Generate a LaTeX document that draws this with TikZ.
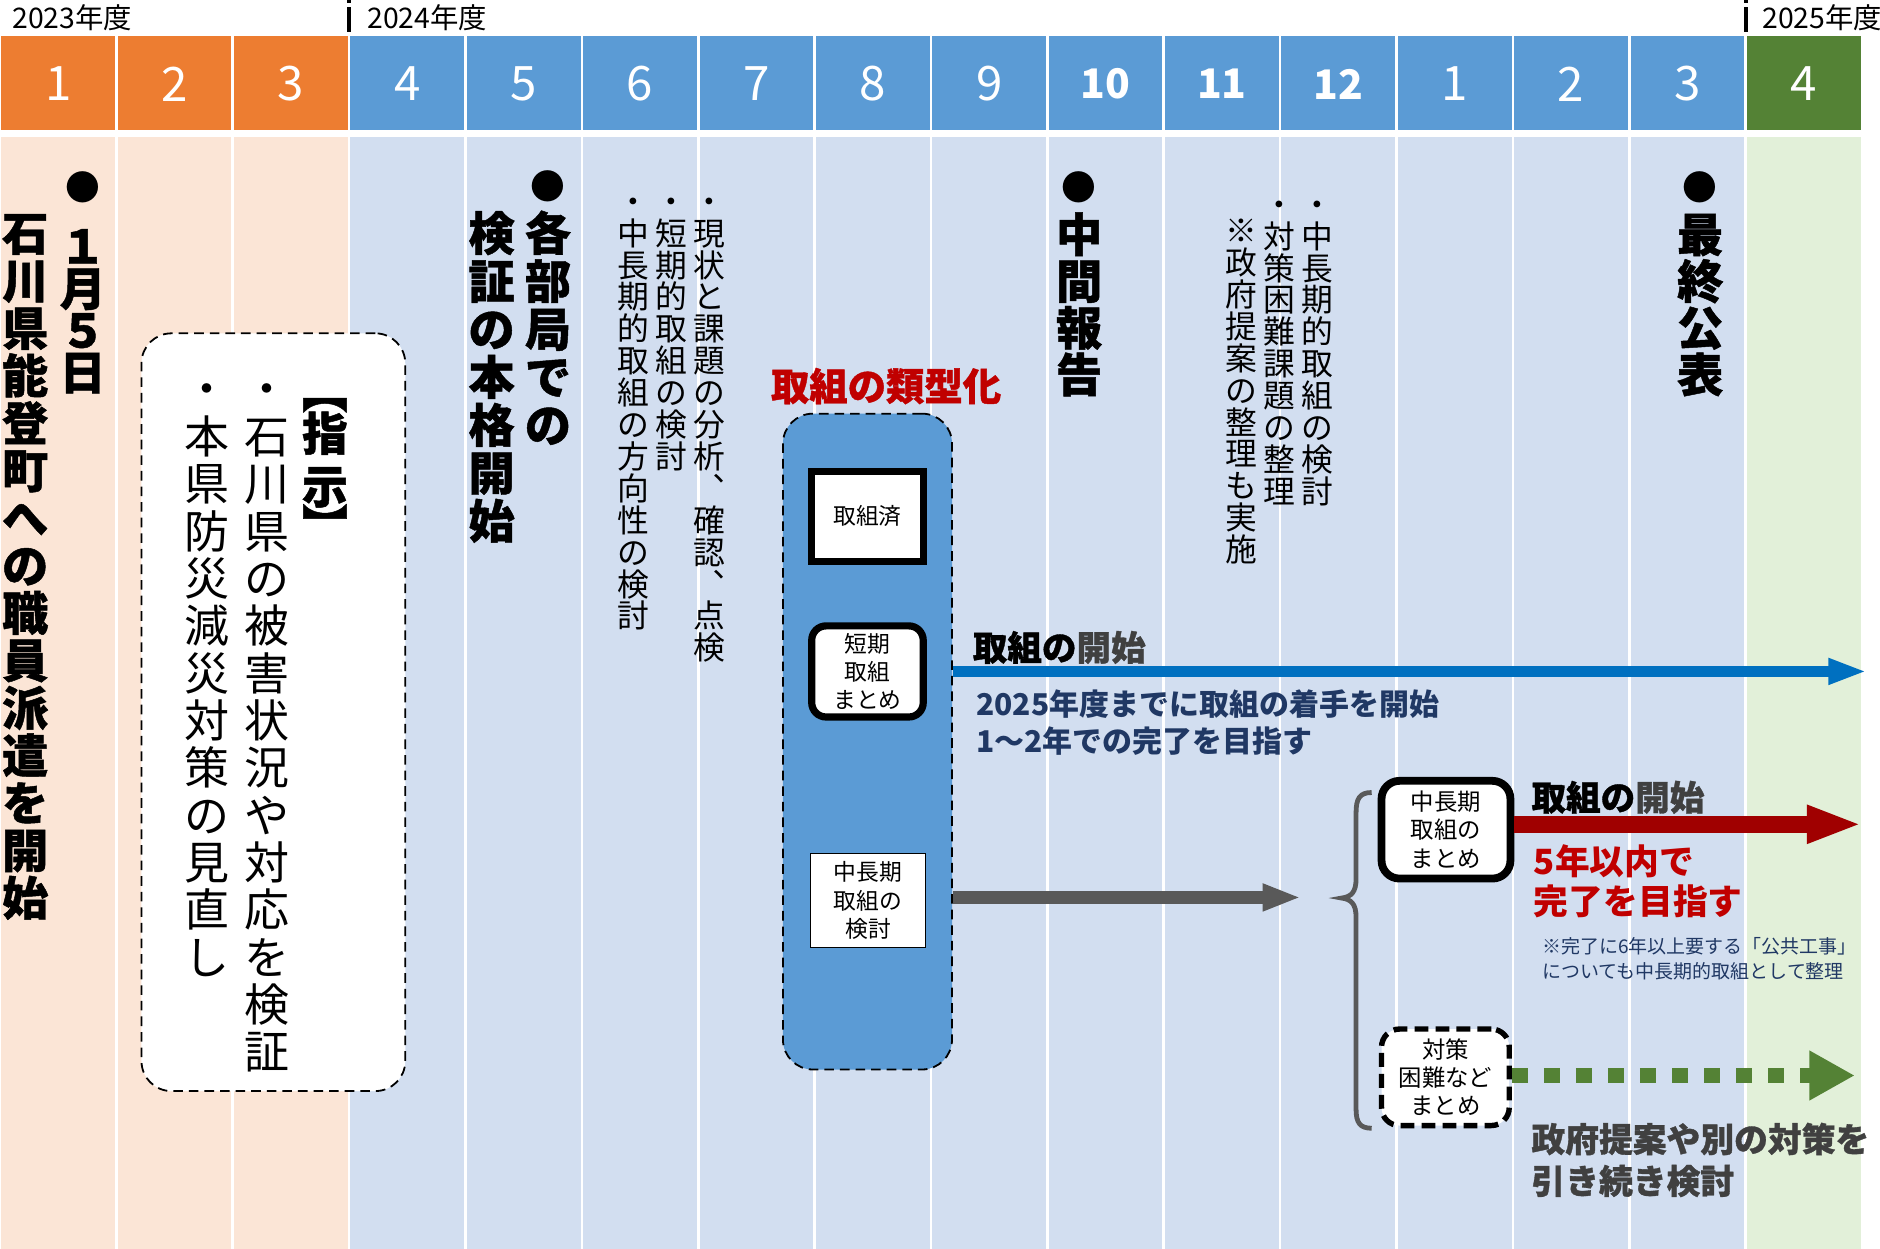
\documentclass[tikz,border=0pt]{standalone}
\usepackage{fontspec}
\setmainfont{Noto Sans CJK JP}
\usetikzlibrary{arrows.meta}
\definecolor{orgH}{HTML}{ED7D31}
\definecolor{orgB}{HTML}{FBE5D6}
\definecolor{bluH}{HTML}{5B9BD5}
\definecolor{bluB}{HTML}{D2DEF0}
\definecolor{grnH}{HTML}{548235}
\definecolor{grnB}{HTML}{E2F0D9}
\definecolor{arrBlue}{HTML}{0070C0}
\definecolor{arrRed}{HTML}{A00000}
\definecolor{dRed}{HTML}{C00000}
\definecolor{gry}{HTML}{595959}
\definecolor{dgry}{HTML}{404040}
\definecolor{navy}{HTML}{203864}
\newcommand\fsz[2]{\fontsize{#1pt}{#2pt}\selectfont}
\newcommand\heavy{\bfseries\addfontfeatures{FakeBold=1}}
\newcommand\vstrut{\vrule height .88em depth .12em width 0pt\relax}
\ExplSyntaxOn
\NewDocumentCommand{\vt}{ O{1em} m }
 {
  \vbox:n
   {
    \offinterlineskip
    \tl_map_inline:nn {#2}
     {
      \hbox_to_wd:nn {1em}
       { \hss \vbox_to_ht:nn {#1} { \vss \hbox:n { \vstrut ##1 } \vss } \hss }
     }
   }
 }
\ExplSyntaxOff
\begin{document}
\begin{tikzpicture}[x=0.6pt,y=-0.6pt,
  hnum/.style={text=white,inner sep=0pt,font=\fsz{23.76}{24}},
  hnumb/.style={text=white,inner sep=0pt,font=\bfseries\fsz{20.4}{21}},
  yr/.style={font=\fsz{14.2}{15},anchor=west,inner sep=0pt},
  vtx/.style={inner sep=0pt,anchor=north},
  vb/.style={vtx,font=\fsz{23.1}{24}\heavy},
  dot/.style={inner sep=0pt,font=\fsz{17.4}{18}},
  vr/.style={vtx,font=\fsz{15.9}{16}},
  vbx/.style={vtx,font=\fsz{22.5}{24}},
  brk/.style={inner sep=0pt,rotate=-90,font=\fsz{22.8}{24}\heavy},
  smallbox/.style={fill=white,align=center,inner sep=0pt,font=\fsz{11.4}{14.1}},
  lbl/.style={anchor=west,inner sep=0pt},
  tick/.style={line width=1.92pt,black},
]
\useasboundingbox (0,0) rectangle (1568,1041.7);
\fill[white] (0,0) rectangle (1568,1041.7);
% columns
\foreach \i in {0,...,15}{
  \ifnum\i<3 \def\hc{orgH}\def\bc{orgB}\else
    \ifnum\i<15 \def\hc{bluH}\def\bc{bluB}\else \def\hc{grnH}\def\bc{grnB}\fi\fi
  \fill[\hc] ({\i*97.06+1.1},30) rectangle ({(\i+1)*97.06-1.1},108.4);
  \fill[\bc] ({\i*97.06+1.1},114.5) rectangle ({(\i+1)*97.06-1.1},1041.7);
}
% year labels and ticks
\node[yr] (y23) at (10,15) {2023年度};
\node[yr] (y24) at (306,15) {2024年度};
\node[yr] (y25) at (1469.6,15) {2025年度};
\draw[tick] (291.2,0) -- (291.2,2.2);
\draw[tick] (291.2,6.1) -- (291.2,27);
\draw[tick] (1455.9,0) -- (1455.9,2.2);
\draw[tick] (1455.9,6.1) -- (1455.9,27);
% month numbers
\foreach \m/\s [count=\i] in {1/hnum,2/hnum,3/hnum,4/hnum,5/hnum,6/hnum,7/hnum,8/hnum,9/hnum,10/hnumb,11/hnumb,12/hnumb,1/hnum,2/hnum,3/hnum,4/hnum}
  \node[\s] (m\i) at ({(\i-0.5)*97.06},70) {\m};

% column 1
\node[dot] (c1dot) at (69,156) {●};
\node[vb] (c1date) at (69,187.5) {\vt[21pt]{１月５日}};
\node[vb] (c1txt) at (21,174.2) {\vt[23.76pt]{石川県能登町への職員派遣を開始}};

% instruction box
\node[draw,dashed,dash pattern=on 4.8pt off 3pt,line width=0.9pt,rounded corners=15pt,fill=white,
      minimum width=132pt,minimum height=379.2pt,inner sep=0pt] (ibox) at (228,594) {};
\node[brk] (brL) at (271,326) {【};
\node[vtx,font=\fsz{22.8}{24}\heavy] (shiji) at (271,339) {\vt[26.4pt]{指示}};
\node[brk] (brR) at (271,438.5) {】};
\node[vbx] (i1) at (222.5,304.25) {\vt[23.7pt]{・石川県の被害状況や対応を検証}};
\node[vbx] (i2) at (172.5,304.25) {\vt[23.7pt]{・本県防災減災対策の見直し}};

% column 5
\node[dot] (c5dot) at (457,155) {●};
\node[vb] (c5a) at (457,174) {\vt[24pt]{各部局での}};
\node[vb] (c5b) at (410,174) {\vt[24pt]{検証の本格開始}};
% columns 6-7
\node[vr] (c6a) at (592,154.2) {\vt[15.96pt]{・現状と課題の分析︑確認︑点検}};
\node[vr] (c6b) at (560,154.2) {\vt[15.96pt]{・短期的取組の検討}};
\node[vr] (c6c) at (528,154.2) {\vt[15.96pt]{・中長期的取組の方向性の検討}};
% column 10
\node[dot] (c10dot) at (900,156) {●};
\node[vb] (c10) at (900,175.5) {\vt[23.4pt]{中間報告}};
% columns 11-12
\node[vr] (c11a) at (1099,156.7) {\vt[15.96pt]{・中長期的取組の検討}};
\node[vr] (c11b) at (1067,156.7) {\vt[15.96pt]{・対策困難課題の整理}};
\node[vr] (c11c) at (1035,178.7) {\vt[15.96pt]{※政府提案の整理も実施}};
% column 15
\node[dot] (c15dot) at (1418,156) {●};
\node[vb] (c15) at (1418,175.5) {\vt[23.4pt]{最終公表}};

% typing block
\node[font=\fsz{19.2}{20}\heavy,text=dRed,inner sep=0pt] (ruikei) at (739,322) {取組の類型化};
\node[draw,dashed,dash pattern=on 4.8pt off 3pt,line width=0.9pt,rounded corners=15pt,fill=bluH,
      minimum width=84.6pt,minimum height=328.2pt,inner sep=0pt] (tbox) at (723.5,618.5) {};
\node[smallbox,draw,line width=3.6pt,minimum width=55.8pt,minimum height=45pt] (done) at (723.5,430.5) {取組済};
\node[smallbox,draw,line width=3.6pt,rounded corners=7.2pt,minimum width=55.8pt,minimum height=45.6pt] (short) at (723.5,560) {短期\\取組\\まとめ};
\node[smallbox,draw,line width=0.6pt,minimum width=57.6pt,minimum height=46.8pt] (midk) at (724,751) {中長期\\取組の\\検討};

% blue arrow
\coordinate (bE) at (1557,560);
\draw[arrBlue,line width=5.4pt,-{Triangle[length=19.2pt,width=12pt]}] (tbox.east |- bE) -- (bE);
\node[lbl,font=\fsz{17.3}{18}\heavy] (bl1) at (811,540) {取組の\textcolor{dgry}{開始}};
\node[lbl,font=\bfseries\fsz{15}{16},text=navy] (bl2) at (814,587) {2025年度までに取組の着手を開始};
\node[lbl,font=\bfseries\fsz{15}{16},text=navy] (bl3) at (814,618) {1〜2年での完了を目指す};

% gray arrow
\coordinate (gE) at (1085,748.5);
\draw[gry,line width=6.6pt,-{Triangle[length=19.2pt,width=12.6pt]}] (tbox.east |- gE) -- (gE);

% brace
\draw[gry,line width=2.4pt] (1144,661) .. controls (1134,661) and (1131,666) .. (1131,678)
  -- (1131,733) .. controls (1131,744) and (1127,748) .. (1119,749)
  .. controls (1127,750) and (1131,754) .. (1131,765)
  -- (1131,925) .. controls (1131,936) and (1134,941) .. (1144,941);

% mid/long term
\node[smallbox,draw,line width=3.9pt,rounded corners=9pt,minimum width=64.5pt,minimum height=48.9pt,font=\fsz{11.7}{14.1}] (box4) at (1206,692) {中長期\\取組の\\まとめ};
\coordinate (rE) at (1553,687.5);
\draw[arrRed,line width=8.4pt,-{Triangle[length=27.6pt,width=17.4pt]}] (box4.east |- rE) -- (rE);
\node[lbl,font=\fsz{17.3}{18}\heavy] (rl1) at (1277,665) {取組の\textcolor{dgry}{開始}};
\node[lbl,font=\bfseries\fsz{17.4}{18},text=dRed] (rl2) at (1279,718) {5年以内で};
\node[lbl,font=\bfseries\fsz{17.4}{18},text=dRed] (rl3) at (1279,752) {完了を目指す};
\node[lbl,font=\fsz{9.5}{10},text=navy] (rn1) at (1286,789) {※完了に6年以上要する「公共工事」};
\node[lbl,font=\fsz{9.5}{10},text=navy] (rn2) at (1286,810) {についても中長期的取組として整理};

% difficult
\node[smallbox,draw,dashed,dash pattern=on 6.9pt off 3.6pt,line width=2.7pt,rounded corners=9pt,minimum width=63.9pt,minimum height=48.3pt,font=\fsz{11.7}{14.1}] (box5) at (1205.5,898.5) {対策\\困難など\\まとめ};
\coordinate (gnE) at (1547,897);
\draw[grnH,line width=7.8pt,dash pattern=on 8.1pt off 7.92pt,-{Triangle[length=22.8pt,width=23.4pt]}] (box5.east |- gnE) -- (gnE);
\node[lbl,font=\fsz{16.9}{18}\heavy,text=dgry] (gl1) at (1277,950) {政府提案や別の対策を};
\node[lbl,font=\fsz{16.9}{18}\heavy,text=dgry] (gl2) at (1277,985) {引き続き検討};
\end{tikzpicture}
\end{document}
